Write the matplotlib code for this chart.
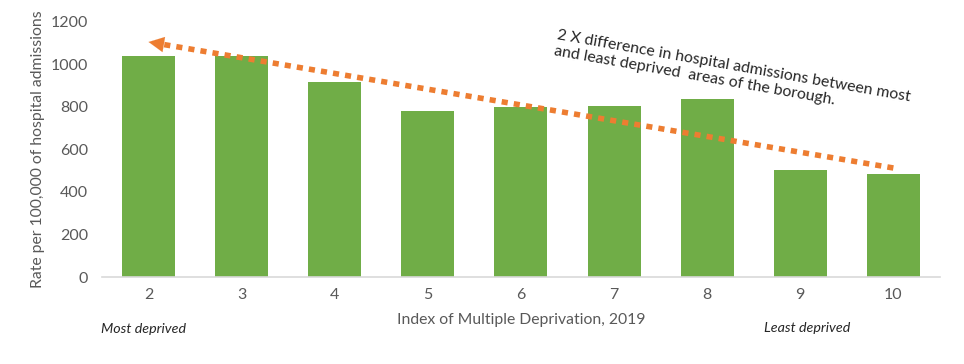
import matplotlib
matplotlib.use('Agg')
import matplotlib.pyplot as plt

# ── Data ──────────────────────────────────────────────────────
deciles = ['2', '3', '4', '5', '6', '7', '8', '9', '10']
rates   = [1040, 1040, 918, 781, 800, 805, 838, 503, 485]

# trend arrow (from least deprived back to most deprived)
arrow_from = (8, 513)
arrow_to   = (0, 1106)

# ── Style ─────────────────────────────────────────────────────
GREEN  = '#70AD47'
ORANGE = '#ED7D31'
GREY   = '#595959'
FONT   = ['Lato', 'DejaVu Sans']

plt.rcParams.update({
    'font.family': FONT,
    'font.size':   11,
})

fig = plt.figure(figsize=(9.64, 3.64), dpi=100, facecolor='white')
ax = fig.add_axes([0.1058, 0.239, 0.8692, 0.7006])

x = range(len(deciles))
ax.bar(x, rates, width=0.57, color=GREEN, edgecolor='none', zorder=2)

ax.set_xlim(-0.5, len(deciles) - 0.5)
ax.set_ylim(0, 1200)
ax.set_yticks(range(0, 1201, 200))
ax.set_xticks(list(x))
ax.set_xticklabels(deciles)
ax.tick_params(length=0, colors=GREY, labelsize=11.5, pad=8)
ax.tick_params(axis='y', pad=10)

for s in ['top', 'right', 'left']:
    ax.spines[s].set_visible(False)
ax.spines['bottom'].set_color('#D9D9D9')
ax.spines['bottom'].set_linewidth(1.2)

ax.set_ylabel('Rate per 100,000 of hospital admissions', color=GREY,
              fontsize=11.3, labelpad=4)
ax.set_xlabel('Index of Multiple Deprivation, 2019', color=GREY,
              fontsize=11.3, labelpad=8)

# extreme labels under the axis
ax.text(-0.05, -0.18, 'Most deprived', transform=ax.get_xaxis_transform(),
        ha='center', va='top', fontsize=10.3, style='italic', color='#262626')
ax.text(7.07, -0.175, 'Least deprived', transform=ax.get_xaxis_transform(),
        ha='center', va='top', fontsize=10.3, style='italic', color='#262626')

# dotted trend line + solid arrow head
fx, fy = arrow_from
tx, ty = arrow_to
k = 0.983  # line stops at the base of the head
ax.plot([fx, fx + (tx - fx) * k], [fy, fy + (ty - fy) * k],
        color=ORANGE, lw=4, linestyle=(0, (1.1, 1.1)),
        solid_capstyle='butt', dash_capstyle='butt', zorder=3, clip_on=False)
ax.annotate('', xy=arrow_to,
            xytext=(fx + (tx - fx) * k, fy + (ty - fy) * k),
            arrowprops=dict(arrowstyle='-|>,head_length=1.0,head_width=0.5',
                            color=ORANGE, lw=0.1, shrinkA=0, shrinkB=0),
            zorder=3, annotation_clip=False)

ax.text(0.545, 0.975,
        '2 X difference in hospital admissions between most\n'
        'and least deprived  areas of the borough.',
        transform=ax.transAxes, rotation=-10, rotation_mode='anchor',
        ha='left', va='top', fontsize=11.4, color='#262626', linespacing=1.2)

plt.savefig('out.png', dpi=100, facecolor='white')
